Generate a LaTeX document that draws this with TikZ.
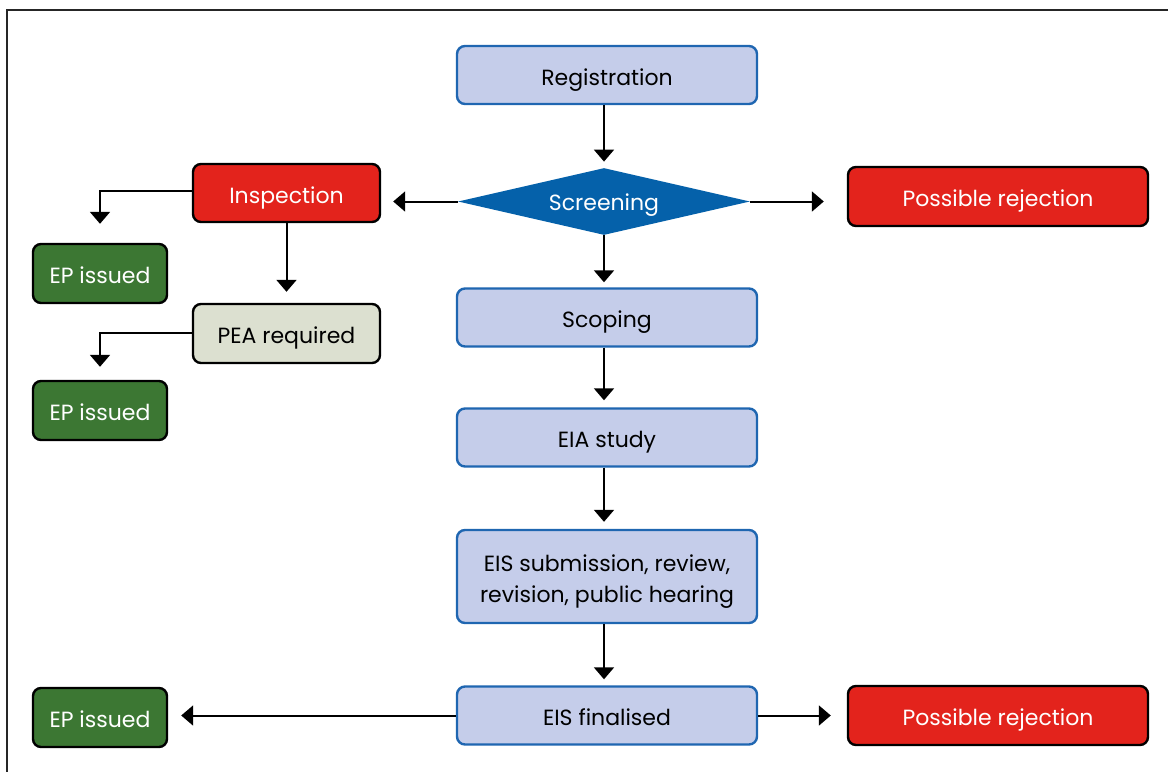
\documentclass[tikz,border=0pt]{standalone}
\usepackage{fontspec}
\setmainfont{Poppins}
\usetikzlibrary{arrows.meta,shapes.geometric,calc}
\definecolor{procfill}{HTML}{C5CDEA}
\definecolor{procdraw}{HTML}{1F66B1}
\definecolor{decfill}{HTML}{0561AA}
\definecolor{rejfill}{HTML}{E3231C}
\definecolor{okfill}{HTML}{3C7733}
\definecolor{peafill}{HTML}{DCE0D0}
\tikzset{
  boxbase/.style={rectangle, rounded corners=4pt, line width=1.2pt, inner sep=2pt,
    align=center, font=\fontsize{11}{15.5}\selectfont},
  oneline/.style={text height=10.2pt, text depth=0pt},
  procbox/.style={boxbase, fill=procfill, draw=procdraw, minimum width=150pt, minimum height=29pt},
  rejbox/.style={boxbase, oneline, fill=rejfill, draw=black, text=white, minimum width=150pt, minimum height=29.5pt},
  inspbox/.style={boxbase, oneline, fill=rejfill, draw=black, text=white, minimum width=93.5pt, minimum height=29pt},
  peabox/.style={boxbase, oneline, fill=peafill, draw=black, minimum width=93.5pt, minimum height=29.5pt},
  okbox/.style={boxbase, oneline, fill=okfill, draw=black, text=white, minimum width=67pt, minimum height=29.5pt},
  decbox/.style={diamond, aspect=4.36, fill=decfill, text=white, inner sep=0pt, minimum width=146pt,
    minimum height=33.5pt, text height=8.5pt, text depth=0pt, font=\fontsize{11}{14}\selectfont},
  arr/.style={line width=1pt, -{Triangle[width=10pt,length=6pt]}},
}
\begin{document}
\begin{tikzpicture}[x=0.5pt,y=-0.5pt]
\useasboundingbox (0,0) rectangle (1168,772);
% outer frame (top and left edges)
\draw[line width=0.9pt, black!85] (1168,10) -- (7,10) -- (7,772);

% main column
\node[procbox, oneline] (reg) at (607,75) {Registration};
\node[decbox] (scr) at (604,201.5) {Screening};
\node[procbox, oneline] (scop) at (607,317.5) {Scoping};
\node[procbox, oneline] (eia) at (607,437.5) {EIA study};
\node[procbox, minimum height=46.5pt, text height=26pt, text depth=0pt] (eis) at (607,576.5) {EIS submission, review,\\revision, public hearing};
\node[procbox, oneline] (fin) at (607,715.5) {EIS finalised};

% side branches
\node[inspbox] (insp) at (286.5,193) {Inspection};
\node[peabox] (pea) at (286.5,333.5) {PEA required};
\node[okbox] (ep1) at (100,273.5) {EP issued};
\node[okbox] (ep2) at (100,410.5) {EP issued};
\node[okbox] (ep3) at (100,717.5) {EP issued};
\node[rejbox] (rej1) at (998,196.5) {Possible rejection};
\node[rejbox] (rej2) at (998,715.5) {Possible rejection};

% connectors
\draw[arr, shorten >=3pt] (reg.south -| scr.north) -- (scr.north);
\draw[arr, shorten >=2.5pt] (scr.south) -- (scr.south |- scop.north);
\draw[arr, shorten >=3.5pt] (scop.south -| scr.north) -- (scr.north |- eia.north);
\draw[arr, shorten >=3.5pt] (eia.south -| scr.north) -- (scr.north |- eis.north);
\draw[arr, shorten >=3pt] (eis.south -| scr.north) -- (scr.north |- fin.north);

\draw[arr, shorten >=6pt] (scr.west) -- (scr.west -| insp.east);
\draw[arr, shorten >=11.5pt] (scr.east) -- (scr.east -| rej1.west);
\draw[arr, shorten >=9.5pt] ([yshift=1pt]insp.west) -| (ep1.north);
\draw[arr, shorten >=5.5pt] (insp.south) -- (pea.north);
\draw[arr, shorten >=6.5pt] ([yshift=0.5pt]pea.west) -| (ep2.north);

\draw[arr, shorten >=6.5pt] (fin.west) -- (fin.west -| ep3.east);
\draw[arr, shorten >=8pt] (fin.east) -- (fin.east -| rej2.west);
\end{tikzpicture}
\end{document}
